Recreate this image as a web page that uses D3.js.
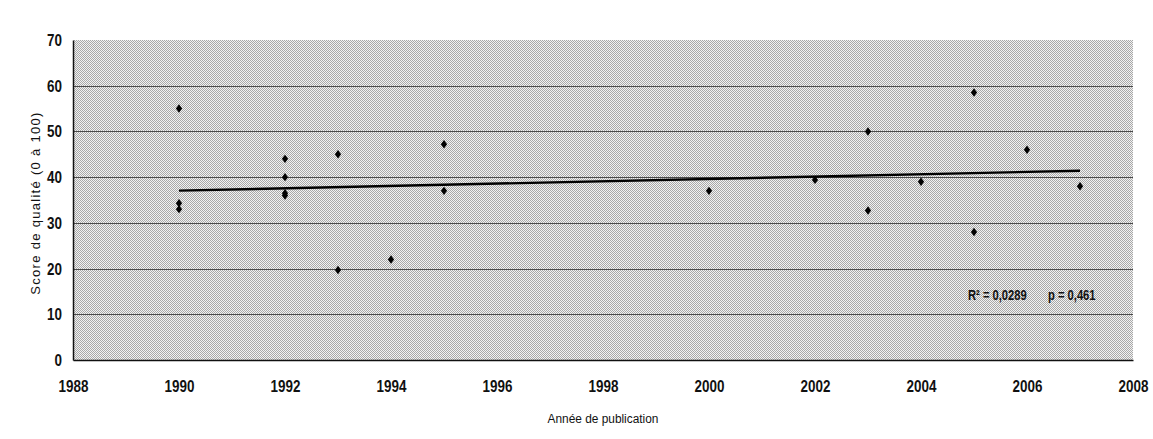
<!DOCTYPE html>
<html>
<head>
<meta charset="utf-8">
<script src="https://cdn.jsdelivr.net/npm/d3@7"></script>
<style>
  html, body { margin: 0; padding: 0; background: #ffffff; }
  svg { display: block; }
  text { font-family: "Liberation Sans", Arial, sans-serif; fill: #111; }
</style>
</head>
<body>
<svg id="chart" width="1153" height="439"></svg>
<script>
// Publication year and quality score of each study
const years  = [1990, 1990, 1990, 1992, 1992, 1992, 1992, 1993, 1993, 1994, 1995, 1995,
                2000, 2002, 2003, 2003, 2004, 2005, 2005, 2006, 2007];
const scores = [55, 34.3, 33, 44, 40, 36.5, 36, 45, 19.7, 22, 47.2, 37,
                37, 39.4, 50, 32.7, 39, 58.5, 28, 46, 38];

// Fitted linear trend (endpoints)
const trendYears  = [1990, 2007];
const trendScores = [37.05, 41.4];

const xTicks = [1988, 1990, 1992, 1994, 1996, 1998, 2000, 2002, 2004, 2006, 2008];
const yTicks = [0, 10, 20, 30, 40, 50, 60, 70];

const xTitle = "Année de publication";
const yTitle = "Score de qualité (0 à 100)";
const fitText1 = "R² = 0,0289";
const fitText2 = "p = 0,461";

const svg = d3.select("#chart");
const plotL = 73, plotR = 1133, plotT = 40, plotB = 360;

const x = d3.scaleLinear().domain([1988, 2008]).range([plotL, plotR]);
const y = d3.scaleLinear().domain([0, 70]).range([plotB, plotT]);

// Horizontal squeeze for a condensed typeface look; keeps the anchor point fixed
function squeeze(sel, k) {
  sel.each(function () {
    const t = d3.select(this);
    const ax = +t.attr("x") || 0;
    t.attr("x", ax / k).attr("transform", `scale(${k},1)`);
  });
}

// Halftone-style grey plot background
const defs = svg.append("defs");
const pat = defs.append("pattern")
  .attr("id", "halftone").attr("patternUnits", "userSpaceOnUse")
  .attr("width", 2).attr("height", 2);
pat.append("rect").attr("width", 2).attr("height", 2).attr("fill", "#f2f2f2");
pat.append("rect").attr("x", 0).attr("y", 0).attr("width", 1).attr("height", 1).attr("fill", "#a8a8a8");
pat.append("rect").attr("x", 1).attr("y", 1).attr("width", 1).attr("height", 1).attr("fill", "#a8a8a8");
pat.selectAll("rect").attr("shape-rendering", "crispEdges");

svg.append("rect")
  .attr("x", plotL).attr("y", plotT)
  .attr("width", plotR - plotL).attr("height", plotB - plotT)
  .attr("fill", "url(#halftone)");

// Horizontal gridlines
svg.append("g").selectAll("line")
  .data(yTicks.filter(d => d > 0 && d < 70))
  .join("line")
  .attr("x1", plotL).attr("x2", plotR)
  .attr("y1", d => Math.round(y(d)) + 0.5).attr("y2", d => Math.round(y(d)) + 0.5)
  .attr("stroke", "#4a4a4a").attr("stroke-width", 1);

// Axes
const yAxis = svg.append("g")
  .attr("transform", `translate(${plotL},0)`)
  .call(d3.axisLeft(y).tickValues(yTicks).tickSize(0).tickPadding(11).tickFormat(d3.format("d")));
const xAxis = svg.append("g")
  .attr("transform", `translate(0,${plotB})`)
  .call(d3.axisBottom(x).tickValues(xTicks).tickSize(0).tickPadding(20).tickFormat(d3.format("d")));
[yAxis, xAxis].forEach(g => {
  g.select(".domain").attr("stroke", "#111").attr("stroke-width", 1.5);
  g.selectAll("text")
    .attr("font-family", "'Liberation Sans', Arial, sans-serif")
    .attr("font-size", 17).attr("font-weight", "bold").attr("fill", "#111")
    .call(squeeze, 0.79);
});

// Axis titles
svg.append("g").attr("transform", "translate(603,423)")
  .append("text")
  .attr("text-anchor", "middle").attr("font-size", 13.5)
  .text(xTitle)
  .call(squeeze, 0.88);
svg.append("text")
  .attr("transform", `translate(40,${(plotT + plotB) / 2 + 3}) rotate(-90)`)
  .attr("text-anchor", "middle").attr("font-size", 13)
  .attr("letter-spacing", 1.3)
  .text(yTitle);

// Trend line
svg.append("line")
  .attr("x1", x(trendYears[0])).attr("y1", y(trendScores[0]))
  .attr("x2", x(trendYears[1])).attr("y2", y(trendScores[1]))
  .attr("stroke", "#000").attr("stroke-width", 2.4);

// Diamond markers
const diamond = "M0,-4.2L3.1,0L0,4.2L-3.1,0Z";
svg.append("g").selectAll("path")
  .data(years.map((yr, i) => ({ yr, s: scores[i] })))
  .join("path")
  .attr("d", diamond)
  .attr("transform", d => `translate(${x(d.yr)},${y(d.s)})`)
  .attr("fill", "#000");

// Fit statistics
svg.append("g").attr("transform", "translate(968,300)")
  .append("text")
  .attr("font-size", 14).attr("font-weight", "bold")
  .text(fitText1)
  .call(squeeze, 0.8);
svg.append("g").attr("transform", "translate(1048,300)")
  .append("text")
  .attr("font-size", 14).attr("font-weight", "bold")
  .text(fitText2)
  .call(squeeze, 0.8);
</script>
</body>
</html>
